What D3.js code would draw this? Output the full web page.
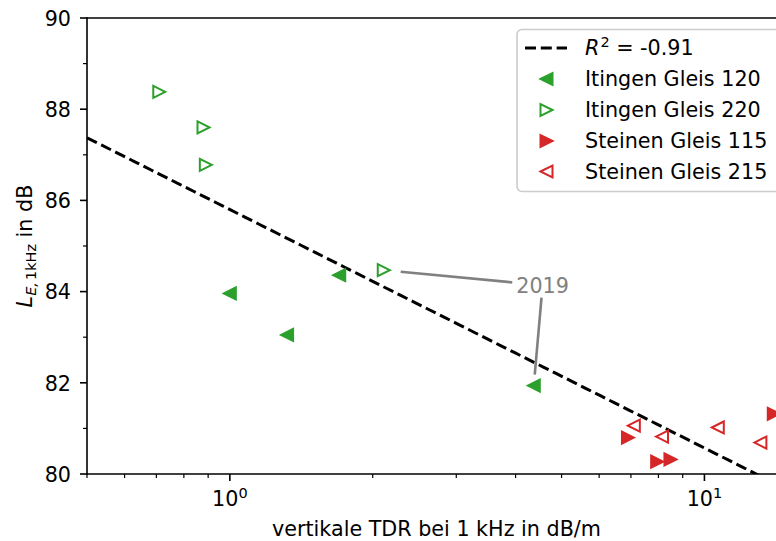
<!DOCTYPE html>
<html>
<head>
<meta charset="utf-8">
<script src="https://cdn.jsdelivr.net/npm/d3@7"></script>
<style>
  html, body { margin: 0; padding: 0; background: #fff; }
  svg { display: block; font-family: "DejaVu Sans", sans-serif; }
</style>
</head>
<body>
<svg id="chart" width="776" height="541"></svg>
<script>
// Measured series: vertical track decay rate (dB/m) vs. exposure level at 1 kHz (dB)
const itingen120X = [1.00, 1.32, 1.70, 4.37];
const itingen120Y = [83.96, 83.05, 84.36, 81.94];
const itingen220X = [0.71, 0.88, 0.89, 2.11];
const itingen220Y = [88.38, 87.60, 86.78, 84.47];
const steinen115X = [6.90, 7.95, 8.48, 14.0];
const steinen115Y = [80.80, 80.27, 80.32, 81.32];
const steinen215X = [7.10, 8.14, 10.67, 13.12];
const steinen215Y = [81.06, 80.82, 81.02, 80.69];

// Log-linear fit: L = intercept + slope * log10(TDR)
const fitIntercept = 85.80;
const fitSlope = -5.23;
const fitLabel = "-0.91";

const yTicks = [80, 82, 84, 86, 88, 90];
const yMinorTicks = [81, 83, 85, 87, 89];
const xMajorTicks = [1, 10];
const annotationText = "2019";

const svg = d3.select("#chart");
const green = "#2ca02c", red = "#d62728";
const fs = 20.7;

const plot = { left: 87, right: 800, top: 18, bottom: 474 };

const x = d3.scaleLog().domain([0.5, 15.9]).range([plot.left, plot.right]);
const y = d3.scaleLinear().domain([80, 90]).range([plot.bottom, plot.top]);

// clip for plotted data
svg.append("defs").append("clipPath").attr("id", "clip")
  .append("rect").attr("x", plot.left).attr("y", plot.top)
  .attr("width", plot.right - plot.left).attr("height", plot.bottom - plot.top);

// regression line
const fitLine = d3.line().x(d => x(d)).y(d => y(fitIntercept + fitSlope * Math.log10(d)));
const fitXs = d3.range(0, 101).map(i => 0.5 * Math.pow(15.9 / 0.5, i / 100));
svg.append("path")
  .attr("clip-path", "url(#clip)")
  .attr("d", fitLine(fitXs))
  .attr("fill", "none").attr("stroke", "#000")
  .attr("stroke-width", 3).attr("stroke-dasharray", "11,4.8");

// triangle marker paths (size 12px box)
function tri(dir, s) {
  const h = s / 2;
  if (dir === "left") return `M${-h},0L${h},${-h}L${h},${h}Z`;
  return `M${h},0L${-h},${-h}L${-h},${h}Z`;
}

const series = [
  { name: "Itingen Gleis 120", xs: itingen120X, ys: itingen120Y, color: green, dir: "left", filled: true },
  { name: "Itingen Gleis 220", xs: itingen220X, ys: itingen220Y, color: green, dir: "right", filled: false },
  { name: "Steinen Gleis 115", xs: steinen115X, ys: steinen115Y, color: red, dir: "right", filled: true },
  { name: "Steinen Gleis 215", xs: steinen215X, ys: steinen215Y, color: red, dir: "left", filled: false }
];

function drawMarker(g, s, cx, cy) {
  g.append("path")
    .attr("transform", `translate(${cx},${cy})`)
    .attr("d", tri(s.dir, 12))
    .attr("fill", s.filled ? s.color : "none")
    .attr("stroke", s.color)
    .attr("stroke-width", 2)
    .attr("stroke-linejoin", "miter");
}

const pts = svg.append("g");
series.forEach(s => {
  s.xs.forEach((v, i) => drawMarker(pts, s, x(v), y(s.ys[i])));
});

// annotation "2019" pointing at two Itingen points
const annX = 4.56, annY = 84.14;
const ann = svg.append("text")
  .attr("x", x(annX)).attr("y", y(annY))
  .attr("text-anchor", "middle").attr("dy", "0.36em")
  .attr("font-size", fs).attr("fill", "#808080")
  .text(annotationText);
const bb = ann.node().getBBox();
const pad = 4;
const cx0 = bb.x + bb.width / 2, cy0 = y(annY);
const targets = [
  { px: x(itingen220X[3]), py: y(itingen220Y[3]), shrink: 17 },
  { px: x(itingen120X[3]), py: y(itingen120Y[3]), shrink: 11 }
];
targets.forEach(t => {
  const dx = t.px - cx0, dy = t.py - cy0;
  const len = Math.hypot(dx, dy);
  const ux = dx / len, uy = dy / len;
  const hw = bb.width / 2 + pad, hh = 8.3 + pad;
  const tEdge = Math.min(ux !== 0 ? hw / Math.abs(ux) : Infinity, uy !== 0 ? hh / Math.abs(uy) : Infinity);
  svg.append("line")
    .attr("x1", cx0 + ux * tEdge).attr("y1", cy0 + uy * tEdge)
    .attr("x2", t.px - ux * t.shrink).attr("y2", t.py - uy * t.shrink)
    .attr("stroke", "#808080").attr("stroke-width", 2.6);
});

// axes spines
const spine = svg.append("g").attr("stroke", "#000").attr("stroke-width", 1.6).attr("fill", "none");
spine.append("line").attr("x1", plot.left).attr("x2", plot.left).attr("y1", plot.top - 0.8).attr("y2", plot.bottom + 0.8);
spine.append("line").attr("x1", plot.left - 0.8).attr("x2", plot.right).attr("y1", plot.bottom).attr("y2", plot.bottom);
spine.append("line").attr("x1", plot.left - 0.8).attr("x2", plot.right).attr("y1", plot.top).attr("y2", plot.top);

// y axis ticks
const yAxis = svg.append("g");
yTicks.forEach(v => {
  yAxis.append("line").attr("x1", plot.left - 7).attr("x2", plot.left)
    .attr("y1", y(v)).attr("y2", y(v)).attr("stroke", "#000").attr("stroke-width", 1.6);
  yAxis.append("text").attr("x", plot.left - 16).attr("y", y(v)).attr("dy", "0.38em")
    .attr("text-anchor", "end").attr("font-size", fs).attr("fill", "#000").text(v);
});
yMinorTicks.forEach(v => {
  yAxis.append("line").attr("x1", plot.left - 4).attr("x2", plot.left)
    .attr("y1", y(v)).attr("y2", y(v)).attr("stroke", "#000").attr("stroke-width", 1.2);
});

// x axis ticks (log)
const xAxis = svg.append("g");
const xMinor = [];
[0.1, 1, 10].forEach(dec => { for (let k = 2; k <= 9; k++) xMinor.push(dec * k); });
xMinor.filter(v => v >= 0.5 && v <= 15.9).forEach(v => {
  xAxis.append("line").attr("x1", x(v)).attr("x2", x(v))
    .attr("y1", plot.bottom).attr("y2", plot.bottom + 4).attr("stroke", "#000").attr("stroke-width", 1.2);
});
xMajorTicks.forEach(v => {
  xAxis.append("line").attr("x1", x(v)).attr("x2", x(v))
    .attr("y1", plot.bottom).attr("y2", plot.bottom + 7).attr("stroke", "#000").attr("stroke-width", 1.6);
  const t = xAxis.append("text").attr("x", x(v)).attr("y", 506)
    .attr("text-anchor", "middle").attr("font-size", fs).attr("fill", "#000");
  t.append("tspan").text("10");
  t.append("tspan").attr("font-size", fs * 0.7).attr("dy", -8).text(Math.round(Math.log10(v)));
});

// axis labels
svg.append("text").attr("x", 436.5).attr("y", 536)
  .attr("text-anchor", "middle").attr("font-size", fs).attr("fill", "#000")
  .text("vertikale TDR bei 1 kHz in dB/m");

const yl = svg.append("text")
  .attr("transform", `translate(32,${(plot.top + plot.bottom) / 2}) rotate(-90)`)
  .attr("text-anchor", "middle").attr("font-size", fs).attr("fill", "#000");
yl.append("tspan").attr("font-style", "italic").text("L");
yl.append("tspan").attr("font-style", "italic").attr("font-size", fs * 0.7).attr("dy", 4).text("E,");
yl.append("tspan").attr("font-size", fs * 0.7).attr("dx", 2).text("1kHz");
yl.append("tspan").attr("dy", -4).text(" in dB");

// legend
const lg = svg.append("g");
lg.append("rect").attr("x", 517).attr("y", 29.5).attr("width", 290).attr("height", 162)
  .attr("rx", 5).attr("fill", "#fff").attr("fill-opacity", 0.8)
  .attr("stroke", "#cccccc").attr("stroke-width", 1.6);
const rowY = [48, 79, 110, 141, 171.5];
lg.append("line").attr("x1", 525).attr("x2", 567).attr("y1", rowY[0]).attr("y2", rowY[0])
  .attr("stroke", "#000").attr("stroke-width", 3).attr("stroke-dasharray", "11,4.8");
const r2 = lg.append("text").attr("x", 585).attr("y", rowY[0]).attr("dy", "0.36em")
  .attr("font-size", fs).attr("fill", "#000");
r2.append("tspan").attr("font-style", "italic").text("R");
r2.append("tspan").attr("font-size", fs * 0.7).attr("dy", -8).attr("dx", 1).text("2");
r2.append("tspan").attr("dy", 8).text(" = " + fitLabel);
series.forEach((s, i) => {
  drawMarker(lg, s, 546.5, rowY[i + 1]);
  lg.append("text").attr("x", 585).attr("y", rowY[i + 1]).attr("dy", "0.36em")
    .attr("font-size", fs).attr("fill", "#000").text(s.name);
});
</script>
</body>
</html>
